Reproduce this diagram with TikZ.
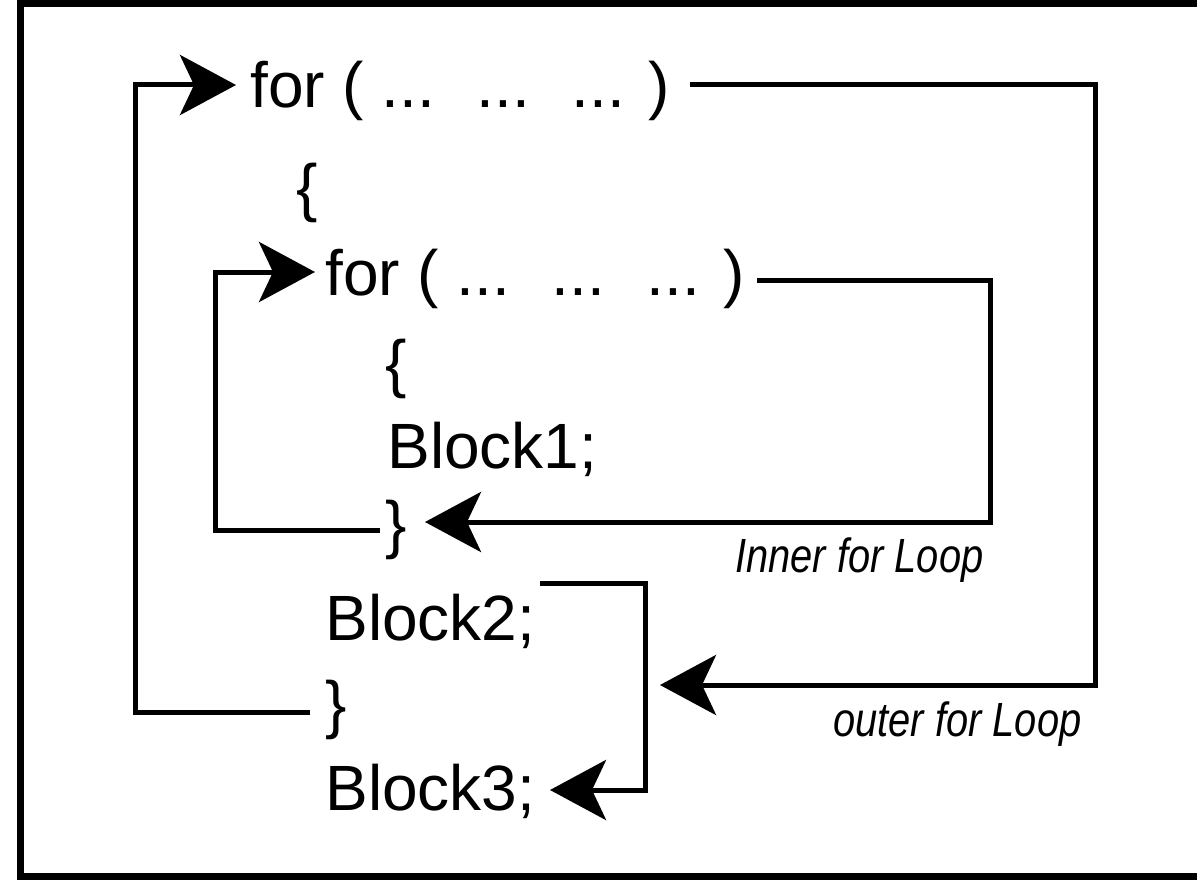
\documentclass[tikz,border=0pt]{standalone}
\usepackage{fontspec}
\setmainfont{Liberation Sans}
\newfontfamily\lblfont[FakeStretch=0.83]{Liberation Sans}
\usetikzlibrary{arrows.meta}
\begin{document}
\begin{tikzpicture}[x=0.5pt,y=-0.5pt,
  code/.style={inner sep=0pt,anchor=base west,font=\fontsize{32}{38}\selectfont},
  lbl/.style={inner sep=0pt,anchor=base west,font=\lblfont\fontsize{24}{28}\selectfont\itshape},
  wire/.style={line width=2.5pt},
  arr/.style={wire,-{Stealth[length=28pt,width=30pt,inset=7pt]}},
  frame/.style={line width=3.5pt}]
\useasboundingbox (0,0) rectangle (1197,882);
\begin{scope}
\clip (0,0) rectangle (1197,882);
\draw[frame] (20,4) rectangle (1215,876);
\end{scope}
% text
\node[code] (for1) at (250,108) {for ( ...~ ...~ ... )};
\node[code] (ob1) at (296,210) {\{};
\node[code] (for2) at (325,295) {for ( ...~ ...~ ... )};
\node[code] (ib1) at (385,385) {\{};
\node[code] (blk1) at (387,468) {Block1;};
\node[code] (ib2) at (385,546) {\}};
\node[lbl] (inl) at (735,572) {Inner for Loop};
\node[code] (blk2) at (325,640) {Block2;};
\node[code] (ob2) at (325,726) {\}};
\node[lbl] (outl) at (833,736) {outer for Loop};
\node[code] (blk3) at (325,810) {Block3;};
% coordinates
\coordinate (o1) at (135,712);
\coordinate (o2) at (135,85);
\coordinate (ot) at (236,85);
\coordinate (os) at (690,85);
\coordinate (or) at (1095,685);
\coordinate (oe) at (660,685);
\coordinate (i1) at (215,530);
\coordinate (i0) at (380,530);
\coordinate (it) at (315,272);
\coordinate (is) at (757,280);
\coordinate (ir) at (990,522);
\coordinate (ie) at (425,522);
\coordinate (b0) at (540,583);
\coordinate (br) at (645,790);
\coordinate (be) at (550,790);
\coordinate (o0) at (310,712);
% connectors
\draw[arr] (o0) -- (o1) |- (ot);
\draw[arr] (os) -| (or) -- (oe);
\draw[arr] (i0) -- (i1) |- (it);
\draw[arr] (is) -| (ir) -- (ie);
\draw[arr] (b0) -| (br) -- (be);
\end{tikzpicture}
\end{document}
